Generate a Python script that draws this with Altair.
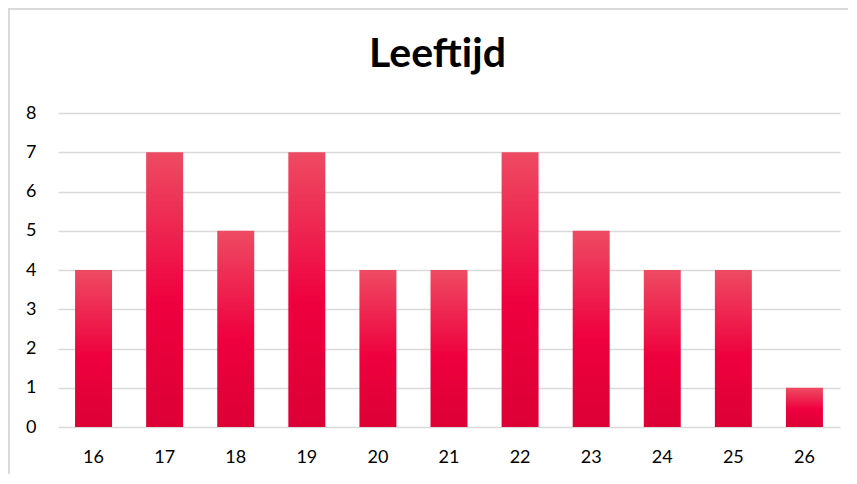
import altair as alt
import pandas as pd

ages = ["16", "17", "18", "19", "20", "21", "22", "23", "24", "25", "26"]
counts = [4, 7, 5, 7, 4, 4, 7, 5, 4, 4, 1]
y_ticks = [0, 1, 2, 3, 4, 5, 6, 7, 8]
title_text = "Leeftijd"

df = pd.DataFrame({"age": ages, "count": counts})

FONT = "Lato"

grad = alt.Gradient(
    gradient="linear",
    stops=[
        alt.GradientStop(color="#EE4B63", offset=0),
        alt.GradientStop(color="#EE003E", offset=0.55),
        alt.GradientStop(color="#DC0036", offset=1),
    ],
    x1=0, x2=0, y1=0, y2=1,
)

bars = alt.Chart(df).mark_bar(color=grad).encode(
    x=alt.X("age:N", sort=ages, title=None,
            scale=alt.Scale(paddingInner=0.48, paddingOuter=0.24),
            axis=alt.Axis(labelAngle=0, labelFont=FONT, labelFontSize=18,
                          labelColor="#000000", labelPadding=21,
                          ticks=False, domain=False, grid=False)),
    y=alt.Y("count:Q", title=None,
            scale=alt.Scale(domain=[0, 8], nice=False),
            axis=alt.Axis(values=y_ticks, labelFont=FONT, labelFontSize=18,
                          labelColor="#000000", labelPadding=22,
                          ticks=False, domain=False,
                          grid=True, gridColor="#D9D9D9", gridWidth=1.5)),
)

title = alt.Chart(pd.DataFrame({"t": [title_text]})).mark_text(
    font=FONT, fontSize=41, fontWeight="bold", color="#000000",
    align="center", baseline="alphabetic",
).encode(text="t:N", x=alt.value(379.5), y=alt.value(-46))

# decorative chart frame (top and left edge)
frame_top = alt.Chart(df).mark_rule(color="#D9D9D9", strokeWidth=1.5).encode(
    x=alt.value(-50), x2=alt.value(800), y=alt.value(-104.3)
)
frame_left = alt.Chart(df).mark_rule(color="#D9D9D9", strokeWidth=1.5).encode(
    x=alt.value(-49.3), y=alt.value(-105), y2=alt.value(400)
)

chart = alt.layer(bars, title, frame_top, frame_left).properties(
    width=782,
    height=314,
    background="#FFFFFF",
    padding={"left": 50, "top": 105, "right": 8, "bottom": 47},
    autosize=alt.AutoSizeParams(type="none"),
).configure_view(strokeWidth=0, stroke=None)

chart.save("out.html", embed_options={"renderer": "svg", "actions": False})
